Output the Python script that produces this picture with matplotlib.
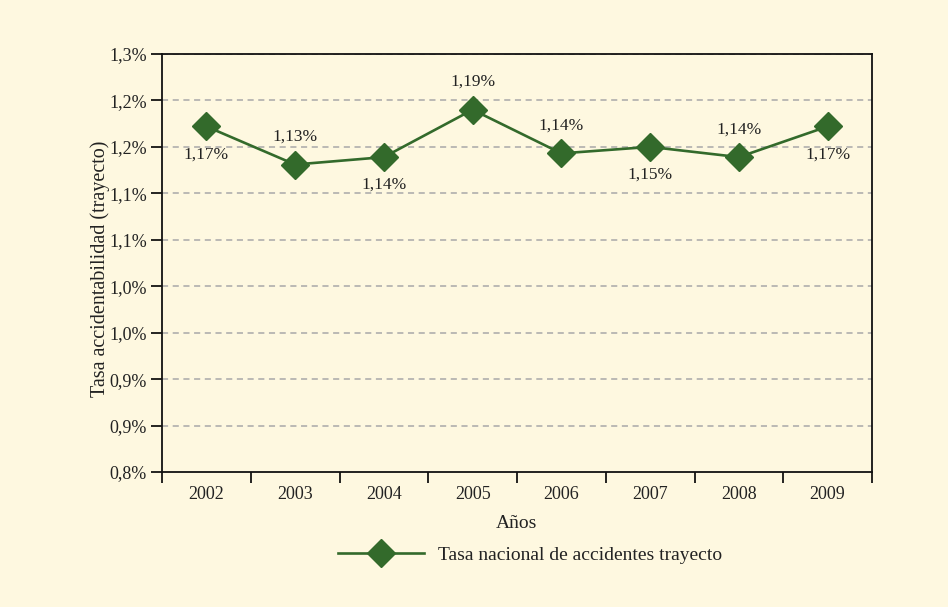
import numpy as np
import matplotlib.pyplot as plt
from matplotlib.ticker import FixedLocator, FuncFormatter

years = ["2002", "2003", "2004", "2005", "2006", "2007", "2008", "2009"]
tasa = [1.172, 1.131, 1.139, 1.190, 1.143, 1.150, 1.139, 1.172]
etiquetas = ["1,17%", "1,13%", "1,14%", "1,19%", "1,14%", "1,15%", "1,14%", "1,17%"]
lado = [-1, 1, -1, 1, 1, -1, 1, -1]  # -1 label below point, 1 above
y_ticks = [0.80, 0.85, 0.90, 0.95, 1.00, 1.05, 1.10, 1.15, 1.20, 1.25]

bg = "#FEF8E0"
verde = "#336A2B"
plt.rcParams["font.family"] = ["Liberation Serif", "DejaVu Serif"]

fig = plt.figure(figsize=(9.48, 6.07), dpi=100, facecolor=bg)
ax = fig.add_axes([162 / 948, 1 - 472 / 607, 710 / 948, 418 / 607])
ax.set_facecolor(bg)

x = np.arange(len(years))
ax.plot(x, tasa, color=verde, lw=1.9, marker="D", ms=14,
        label="Tasa nacional de accidentes trayecto", zorder=3)

for xi, yi, t, s in zip(x, tasa, etiquetas, lado):
    ax.annotate(t, (xi, yi), xytext=(0, 20 * s), textcoords="offset points",
                ha="center", va="center", fontsize=12.5, color="#222222")

ax.set_xlim(-0.5, len(years) - 0.5)
ax.set_ylim(0.80, 1.25)

# ticks sit on category boundaries, labels in the middle
ax.xaxis.set_major_locator(FixedLocator(np.arange(len(years) + 1) - 0.5))
ax.xaxis.set_major_formatter(FuncFormatter(lambda v, p: ""))
ax.xaxis.set_minor_locator(FixedLocator(x))
ax.set_xticklabels(years, minor=True)
ax.tick_params(axis="x", which="major", length=8, width=1.2, direction="out")
ax.tick_params(axis="x", which="minor", length=0, pad=10, labelsize=13, labelcolor="#222222")

def fmt(v, p):
    r = int(v * 10 + 0.5 + 1e-9) / 10
    return f"{r:.1f}".replace(".", ",") + "%"

ax.yaxis.set_major_locator(FixedLocator(y_ticks))
ax.yaxis.set_major_formatter(FuncFormatter(fmt))
ax.tick_params(axis="y", length=8, width=1.2, direction="out", pad=3,
               labelsize=13, labelcolor="#222222")

for yv in y_ticks[1:]:
    ax.axhline(yv, color="#A8A8A8", lw=1.1, ls=(0, (4, 3)), zorder=1)

for sp in ax.spines.values():
    sp.set_linewidth(1.3)
    sp.set_color("#111111")

ax.set_xlabel("Años", fontsize=14, color="#222222", labelpad=9)
ax.set_ylabel("Tasa accidentabilidad (trayecto)", fontsize=14.5, color="#222222")
ax.yaxis.set_label_coords(-0.073, 0.485)

fig.legend(loc="center", bbox_to_anchor=(530 / 948, 1 - 555 / 607), frameon=False,
           fontsize=14, handlelength=4.4, handletextpad=0.7,
           labelcolor="#222222")

fig.savefig("out.png", dpi=100, facecolor=bg)
